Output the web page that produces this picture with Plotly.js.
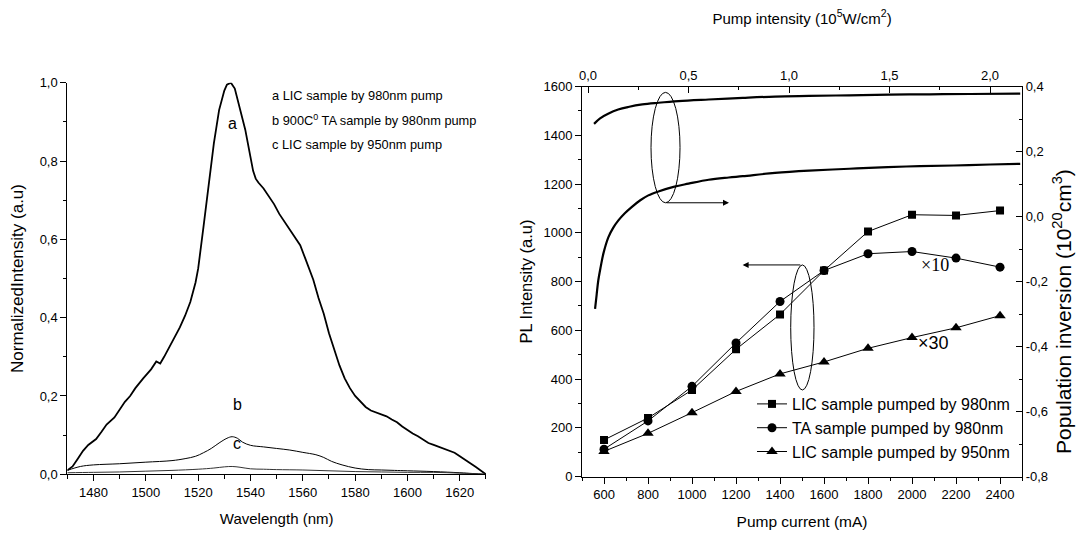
<!DOCTYPE html>
<html>
<head>
<meta charset="utf-8">
<script src="https://cdn.plot.ly/plotly-3.0.1.min.js"></script>
<style>
html,body{margin:0;padding:0;background:#fff;}
#chart{width:1079px;height:536px;}
</style>
</head>
<body>
<div id="chart"></div>
<script>
// ---- Left panel: normalized PL spectra ----
const wavelengthA = [1470,1472,1474,1476,1478,1481,1483,1485,1488,1490,1492,1494,1496,1499,1502,1504,1505.5,1507,1509,1511,1513,1515,1517,1519,1520,1522,1524,1526,1528,1530,1531,1532.5,1534,1535,1536,1538,1540,1541,1542,1543,1545,1547,1549,1551,1553,1555,1557,1559,1561,1563,1564,1566,1568,1570,1572,1574,1576,1578,1580,1582,1584,1586,1588,1590,1592,1594,1596,1598,1600,1602,1604,1606,1608,1610,1612,1614,1616,1618,1620,1622,1624,1626,1628,1630];
const intensityA = [0.01,0.02,0.04,0.06,0.075,0.09,0.108,0.127,0.145,0.165,0.185,0.2,0.22,0.245,0.268,0.288,0.283,0.3,0.325,0.35,0.375,0.405,0.44,0.49,0.525,0.63,0.74,0.845,0.93,0.98,0.995,1.0,0.985,0.96,0.935,0.88,0.81,0.775,0.755,0.745,0.73,0.71,0.69,0.665,0.645,0.625,0.605,0.585,0.55,0.515,0.497,0.45,0.41,0.36,0.32,0.278,0.245,0.22,0.2,0.185,0.172,0.163,0.158,0.155,0.148,0.14,0.133,0.122,0.112,0.104,0.097,0.088,0.08,0.075,0.07,0.067,0.061,0.055,0.046,0.038,0.028,0.019,0.009,0.0];

const wavelengthB = [1470,1475,1480,1490,1500,1510,1515,1519,1522,1525,1528,1531,1533,1535,1537,1540,1545,1550,1555,1560,1565,1568,1571,1575,1580,1585,1590,1595,1600,1610,1620,1625,1630];
const intensityB = [0.01,0.02,0.024,0.027,0.031,0.035,0.04,0.046,0.055,0.066,0.08,0.092,0.096,0.092,0.082,0.074,0.07,0.066,0.062,0.056,0.05,0.043,0.033,0.024,0.016,0.012,0.011,0.01,0.009,0.007,0.004,0.002,0.0];

const wavelengthC = [1470,1480,1490,1500,1510,1520,1526,1530,1533,1536,1540,1545,1550,1560,1570,1580,1590,1600,1610,1620,1630];
const intensityC = [0.004,0.005,0.006,0.008,0.01,0.013,0.016,0.019,0.02,0.018,0.014,0.013,0.012,0.011,0.009,0.007,0.006,0.005,0.005,0.003,0.0];

const spectrumLabels = ["a","b","c"];
const spectrumLabelX = [1533.2,1535.2,1534.7];
const spectrumLabelY = [0.896,0.177,0.079];
const spectrumLegend = ["a LIC sample by 980nm pump","b 900C<sup>0</sup> TA sample by 980nm pump","c LIC sample by 950nm pump"];
const spectrumLegendY = [0.9686,0.905,0.841];

// ---- Right panel: PL intensity vs pump current ----
const pumpCurrent = [600,800,1000,1200,1400,1600,1800,2000,2200,2400];
const licPumped980 = [150,240,355,522,665,845,1005,1074,1071,1091];
const taPumped980  = [112,228,370,548,718,845,914,923,896,859];
const licPumped950 = [103,177,262,349,421,470,526,570,610,660];
const seriesNames = ["LIC sample pumped by 980nm","TA sample pumped by 980nm","LIC sample pumped by 950nm"];

// population inversion vs pump intensity (top/right axes)
const pumpIntensityUpper = [0.03,0.06,0.1,0.15,0.2,0.27,0.35,0.45,0.6,0.77,0.93,1.1,1.3,1.5,1.7,1.9,2.15];
const inversionUpper = [0.285,0.302,0.316,0.329,0.337,0.345,0.35,0.355,0.36,0.365,0.369,0.371,0.373,0.375,0.376,0.377,0.378];
const pumpIntensityLower = [0.035,0.043,0.051,0.063,0.076,0.101,0.125,0.151,0.183,0.217,0.26,0.3,0.35,0.43,0.5,0.6,0.7,0.77,0.93,1.1,1.3,1.49,1.65,1.82,2.0,2.15];
const inversionLower = [-0.284,-0.24,-0.197,-0.155,-0.115,-0.064,-0.035,-0.012,0.01,0.029,0.05,0.065,0.077,0.092,0.101,0.113,0.12,0.124,0.134,0.141,0.147,0.152,0.155,0.157,0.16,0.162];

const leftYTicks = [0,0.2,0.4,0.6,0.8,1.0];
const leftYTickText = ["0,0","0,2","0,4","0,6","0,8","1,0"];
const topXTicks = [0,0.5,1,1.5,2];
const topXTickText = ["0,0","0,5","1,0","1,5","2,0"];
const rightYTicks = [-0.8,-0.6,-0.4,-0.2,0,0.2,0.4];
const rightYTickText = ["-0,8","-0,6","-0,4","-0,2","0,0","0,2","0,4"];
const rightYTitle = 'Population inversion (10<sup>20</sup>cm<sup>3</sup>)';

const FONT = "Liberation Sans, Arial, Helvetica, sans-serif";
const blk = 'black';

const traces = [
  {x:pumpCurrent, y:licPumped980, name:seriesNames[0], xaxis:'x2', yaxis:'y2', type:'scatter', mode:'lines+markers',
   line:{color:blk,width:1}, marker:{symbol:'square',size:8,color:blk}},
  {x:pumpCurrent, y:taPumped980, name:seriesNames[1], xaxis:'x2', yaxis:'y2', type:'scatter', mode:'lines+markers',
   line:{color:blk,width:1}, marker:{symbol:'circle',size:9,color:blk}},
  {x:pumpCurrent, y:licPumped950, name:seriesNames[2], xaxis:'x2', yaxis:'y2', type:'scatter', mode:'lines+markers',
   line:{color:blk,width:1}, marker:{symbol:'triangle-up',size:10,color:blk}},
  {x:pumpIntensityUpper, y:inversionUpper, xaxis:'x3', yaxis:'y3', type:'scatter', mode:'lines', showlegend:false,
   line:{color:blk,width:2.2,shape:'spline'}},
  {x:pumpIntensityLower, y:inversionLower, xaxis:'x3', yaxis:'y3', type:'scatter', mode:'lines', showlegend:false,
   line:{color:blk,width:2.2,shape:'spline'}},
  {x:wavelengthA, y:intensityA, xaxis:'x', yaxis:'y', type:'scatter', mode:'lines', showlegend:false,
   line:{color:blk,width:1.8}},
  {x:wavelengthB, y:intensityB, xaxis:'x', yaxis:'y', type:'scatter', mode:'lines', showlegend:false,
   line:{color:blk,width:1,shape:'spline'}},
  {x:wavelengthC, y:intensityC, xaxis:'x', yaxis:'y', type:'scatter', mode:'lines', showlegend:false,
   line:{color:'#333',width:1,shape:'spline'}}
];

const axBase = {showline:true, linecolor:blk, linewidth:1, showgrid:false, zeroline:false, tickcolor:blk,
  tickwidth:1, ticklen:6, tickfont:{size:13,family:FONT,color:blk}};

function ax(o){ return Object.assign({}, axBase, o); }

const annotations = [];
spectrumLabels.forEach((t,i)=>annotations.push({xref:'x',yref:'y',x:spectrumLabelX[i],y:spectrumLabelY[i],text:t,showarrow:false,font:{size:16,family:FONT,color:blk}}));
spectrumLegend.forEach((t,i)=>annotations.push({xref:'x',yref:'y',x:1547.4,y:spectrumLegendY[i],text:t,xanchor:'left',showarrow:false,font:{size:12.8,family:FONT,color:blk}}));
annotations.push({xref:'x2',yref:'y2',x:2104,y:868,text:'×10',showarrow:false,font:{size:18,family:'Liberation Serif, Times New Roman, serif',color:blk}});
annotations.push({xref:'x2',yref:'y2',x:2096,y:548,text:'×30',showarrow:false,font:{size:18,family:FONT,color:blk}});
annotations.push({xref:'x2',yref:'y2',axref:'x2',ayref:'y2',x:1168,y:1123,ax:877,ay:1123,text:'',showarrow:true,arrowhead:2,arrowsize:1.2,arrowwidth:1,arrowcolor:blk,standoff:0,startstandoff:0});
annotations.push({xref:'x2',yref:'y2',axref:'x2',ayref:'y2',x:1230,y:868,ax:1499,ay:868,text:'',showarrow:true,arrowhead:2,arrowsize:1.2,arrowwidth:1,arrowcolor:blk,standoff:0,startstandoff:0});
// right-hand axis title (placed as in the reference, slightly below the axis centre)
annotations.push({xref:'paper',yref:'paper',x:1062/1079,y:1-312/536,text:rightYTitle,textangle:-90,showarrow:false,
  xanchor:'center',yanchor:'middle',font:{size:21,family:FONT,color:blk}});

const shapes = [
  {type:'circle',xref:'x2',yref:'y2',x0:813.6,x1:945.5,y0:1123,y1:1576,line:{color:blk,width:1}},
  {type:'circle',xref:'x2',yref:'y2',x0:1448.6,x1:1554.5,y0:355,y1:868,line:{color:blk,width:1}}
];

const layout = {
  width:1079, height:536, margin:{l:0,r:0,t:0,b:0},
  paper_bgcolor:'white', plot_bgcolor:'rgba(0,0,0,0)',
  font:{family:FONT,size:13,color:blk},
  separators:',.',
  showlegend:true,
  legend:{x:752/1079, y:1-387/536, xanchor:'left', yanchor:'top', bgcolor:'rgba(0,0,0,0)', borderwidth:0,
          font:{size:16,family:FONT,color:blk}, tracegroupgap:0},
  // left panel
  xaxis: ax({domain:[0.0624,0.4504], range:[1470,1630], anchor:'y', tick0:1480, dtick:20, ticks:'outside',
     minor:{tickmode:'linear',tick0:1470,dtick:10,ticks:'outside',ticklen:3.5,tickcolor:blk},
     title:{text:'Wavelength (nm)', font:{size:15,family:FONT,color:blk}, standoff:14}}),
  yaxis: ax({domain:[0.1151,0.8457], range:[0,1], anchor:'x', tickmode:'array', tickvals:leftYTicks, ticktext:leftYTickText, ticks:'outside',
     minor:{tickmode:'linear',tick0:0,dtick:0.1,ticks:'outside',ticklen:3.5,tickcolor:blk},
     title:{text:'NormalizedIntensity (a.u)', font:{size:17,family:FONT,color:blk}, standoff:11}}),
  xaxis4: ax({overlaying:'x', anchor:'y', side:'top', range:[1470,1630], tick0:1480, dtick:20, ticks:'inside', showticklabels:false,
     minor:{tickmode:'linear',tick0:1470,dtick:10,ticks:'inside',ticklen:3.5,tickcolor:blk}}),
  yaxis4: ax({overlaying:'y', anchor:'x', side:'right', range:[0,1], dtick:0.2, ticks:'inside', showticklabels:false,
     minor:{tickmode:'linear',tick0:0,dtick:0.1,ticks:'inside',ticklen:3.5,tickcolor:blk}}),
  // right panel
  xaxis2: ax({domain:[0.5394,0.9472], range:[500,2500], anchor:'y2', tick0:600, dtick:200, ticks:'outside',
     minor:{tickmode:'linear',tick0:500,dtick:100,ticks:'outside',ticklen:3.5,tickcolor:blk},
     title:{text:'Pump current (mA)', font:{size:15.5,family:FONT,color:blk}, standoff:15}}),
  yaxis2: ax({domain:[0.1110,0.8386], range:[0,1600], anchor:'x2', tick0:0, dtick:200, ticks:'outside',
     minor:{tickmode:'linear',tick0:0,dtick:100,ticks:'outside',ticklen:3.5,tickcolor:blk},
     title:{text:'PL Intensity (a.u)', font:{size:16.5,family:FONT,color:blk}, standoff:6}}),
  xaxis3: ax({overlaying:'x2', anchor:'y3', side:'top', range:[-0.0299,2.159], tickmode:'array', tickvals:topXTicks, ticktext:topXTickText, ticks:'inside',
     minor:{tickmode:'linear',tick0:0,dtick:0.25,ticks:'inside',ticklen:3.5,tickcolor:blk},
     title:{text:'Pump intensity (10<sup>5</sup>W/cm<sup>2</sup>)', font:{size:15,family:FONT,color:blk}, standoff:40}}),
  yaxis3: ax({overlaying:'y2', anchor:'x3', side:'right', range:[-0.8,0.4], tickmode:'array', tickvals:rightYTicks, ticktext:rightYTickText, ticks:'inside',
     minor:{tickmode:'linear',tick0:0,dtick:0.1,ticks:'inside',ticklen:3.5,tickcolor:blk}}),
  annotations: annotations,
  shapes: shapes
};

Plotly.newPlot('chart', traces, layout, {staticPlot:true, displayModeBar:false});
</script>
</body>
</html>
